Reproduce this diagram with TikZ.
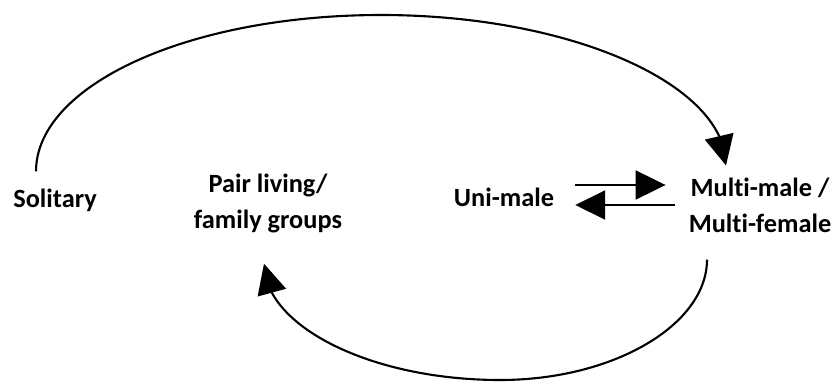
\documentclass[tikz,border=0pt]{standalone}
\usepackage{fontspec}
\setmainfont[Ligatures=NoCommon]{Carlito}
\usetikzlibrary{arrows.meta, bending, calc, positioning}

\begin{document}
\begin{tikzpicture}[
    x=0.02cm, y=0.02cm,
    social/.style={font=\fontsize{15}{20.5}\selectfont\bfseries, align=center},
    arrow/.style={-{Triangle[length=0.6cm, width=0.58cm]}, line width=1.2pt}
]
    \useasboundingbox (0,0) rectangle (836,383);

    % social systems
    \node[social] (solitary) at (55,183) {Solitary};
    \node[social] (pair) at (268,180) {Pair living/\\family groups};
    \node[social] (unimale) at (504,186) {Uni-male};
    \node[social] (multi) at (760,178) {Multi-male /\\Multi-female};

    % top arc
    \draw[arrow] ($(solitary.north)+(-19,11)$) .. controls +(0,86) and +(-193,0) .. (381,368)
        .. controls +(190,0) and +(0,81) .. ($(multi.north)+(-34,6)$);

    % bottom arc
    \draw[arrow] ($(multi.south)+(-53,-21)$) .. controls +(0,-65) and +(114,0) .. (500,3)
        .. controls +(-130,0) and +(0,-62) .. ($(pair.south)+(-4,-25)$);

    % uni-male <-> multi-male
    \draw[arrow] ($(unimale.east)+(15,12)$) -- ($(multi.west)+(-17,20)$);
    \draw[arrow] ($(multi.west)+(-8,0)$) -- ($(unimale.east)+(15,-8)$);
\end{tikzpicture}
\end{document}
